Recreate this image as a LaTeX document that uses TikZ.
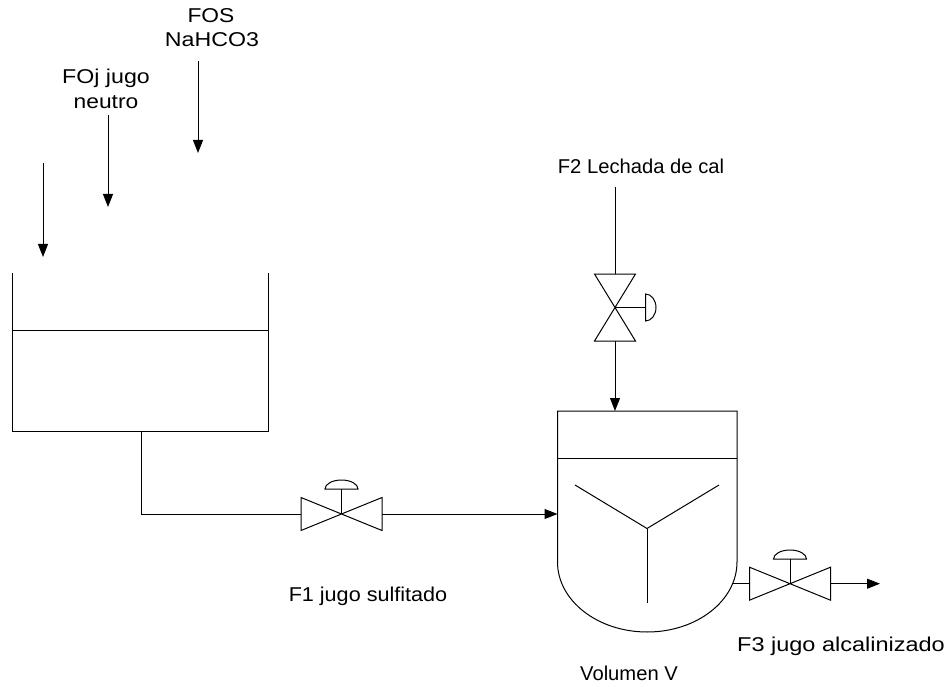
\documentclass[tikz,border=0pt]{standalone}
\usepackage{fontspec}
\usepackage{graphicx}
\setmainfont{Liberation Sans}
\usetikzlibrary{arrows.meta}
\newcommand{\stretchlbl}[2]{\scalebox{#1}[1]{#2}}
\tikzset{
  pipe/.style={draw=black,line width=1pt},
  flow/.style={pipe,-{Triangle[length=13pt,width=10pt]}},
  lbl/.style={font=\fontsize{20pt}{24pt}\selectfont,align=center,inner sep=0pt,text=black},
  valvebody/.style={draw=black,line width=1pt,line join=miter}
}
\begin{document}
\begin{tikzpicture}[x=1pt,y=-1pt]
\useasboundingbox (0,0) rectangle (948,687);
% named points
\coordinate (tankTL) at (12,273);
\coordinate (tankTR) at (268,273);
\coordinate (tankBL) at (12,431);
\coordinate (tankBR) at (268,431);
\coordinate (tankOut) at (141,431);
\coordinate (corner) at (141,514);
\coordinate (v1L) at (301,514);
\coordinate (v1R) at (382,514);
\coordinate (v1C) at (341.5,514);
\coordinate (rIn) at (557.5,514);
\coordinate (rTop) at (615,411);
\coordinate (v2T) at (615,274);
\coordinate (v2B) at (615,341);
\coordinate (v2C) at (615,307.5);
\coordinate (f2) at (615,187);
\coordinate (v3L) at (749.5,583.7);
\coordinate (v3R) at (830.5,583.7);
\coordinate (v3C) at (790,583.7);
\coordinate (rOut) at (732.5,583.7);
\coordinate (e3) at (880,583.7);
\coordinate (hub) at (647,528.5);
% feed arrows
\coordinate (a1s) at (43,163); \coordinate (a1e) at (43,257);
\coordinate (a2s) at (108,115); \coordinate (a2e) at (108,207);
\coordinate (a3s) at (198,61); \coordinate (a3e) at (198,153);
\draw[flow] (a1s) -- (a1e);
\draw[flow] (a2s) -- (a2e);
\draw[flow] (a3s) -- (a3e);
% tank
\draw[pipe] (tankTL) -- (tankBL) -- (tankBR) -- (tankTR);
\draw[pipe] (12,330) -- (268,330);
\draw[pipe] (tankOut) -- (corner) -- (v1L);
% valve 1
\draw[valvebody] (v1L) -- ++(0,-16.5) -- ++(81,33) -- ++(0,-33) -- ++(-81,33) -- cycle;
\draw[pipe] (v1C) -- ++(0,-25);
\draw[pipe] (325,489) arc[start angle=180,end angle=0,x radius=16.5,y radius=-9] -- cycle;
\draw[flow] (v1R) -- (rIn);
% valve 2
\draw[pipe] (f2) -- (v2T);
\draw[valvebody] (v2T) ++(-20.5,0) -- ++(41,0) -- ++(-41,67) -- ++(41,0) -- cycle;
\draw[pipe] (v2C) -- ++(30.5,0);
\draw[pipe] (645.5,294) arc[start angle=-90,end angle=90,x radius=10.5,y radius=13.5] -- cycle;
\draw[flow] (v2B) -- (rTop);
% reactor
\draw[pipe] (557.5,562) -- (557.5,411) -- (737,411) -- (737,562)
  arc[start angle=0,end angle=180,x radius=89.75,y radius=70];
\draw[pipe] (557.5,458) -- (737,458);
\draw[pipe] (575,485) -- (hub) -- (719,485);
\draw[pipe] (hub) -- (647,603);
% valve 3
\draw[pipe] (rOut) -- (v3L);
\draw[valvebody] (v3L) -- ++(0,-16.5) -- ++(81,33) -- ++(0,-33) -- ++(-81,33) -- cycle;
\draw[pipe] (v3C) -- ++(0,-25);
\draw[pipe] (773.5,559) arc[start angle=180,end angle=0,x radius=16.5,y radius=-9] -- cycle;
\draw[flow] (v3R) -- (e3);
% labels
\node[lbl] (tFOS) at (211,16) {\stretchlbl{1.14}{FOS}};
\node[lbl] (tNa) at (212,40) {\stretchlbl{1.16}{NaHCO3}};
\node[lbl] (tFOj) at (106,78) {\stretchlbl{1.16}{FOj jugo}};
\node[lbl] (tneu) at (106,102) {\stretchlbl{1.14}{neutro}};
\node[lbl] (tF2) at (641,166) {\stretchlbl{1.01}{F2 Lechada de cal}};
\node[lbl] (tF1) at (368,596) {\stretchlbl{1.08}{F1 jugo sulfitado}};
\node[lbl] (tF3) at (841,646) {\stretchlbl{1.175}{F3 jugo alcalinizado}};
\node[lbl] (tV) at (629,673) {\stretchlbl{1.01}{Volumen V}};
\end{tikzpicture}
\end{document}
